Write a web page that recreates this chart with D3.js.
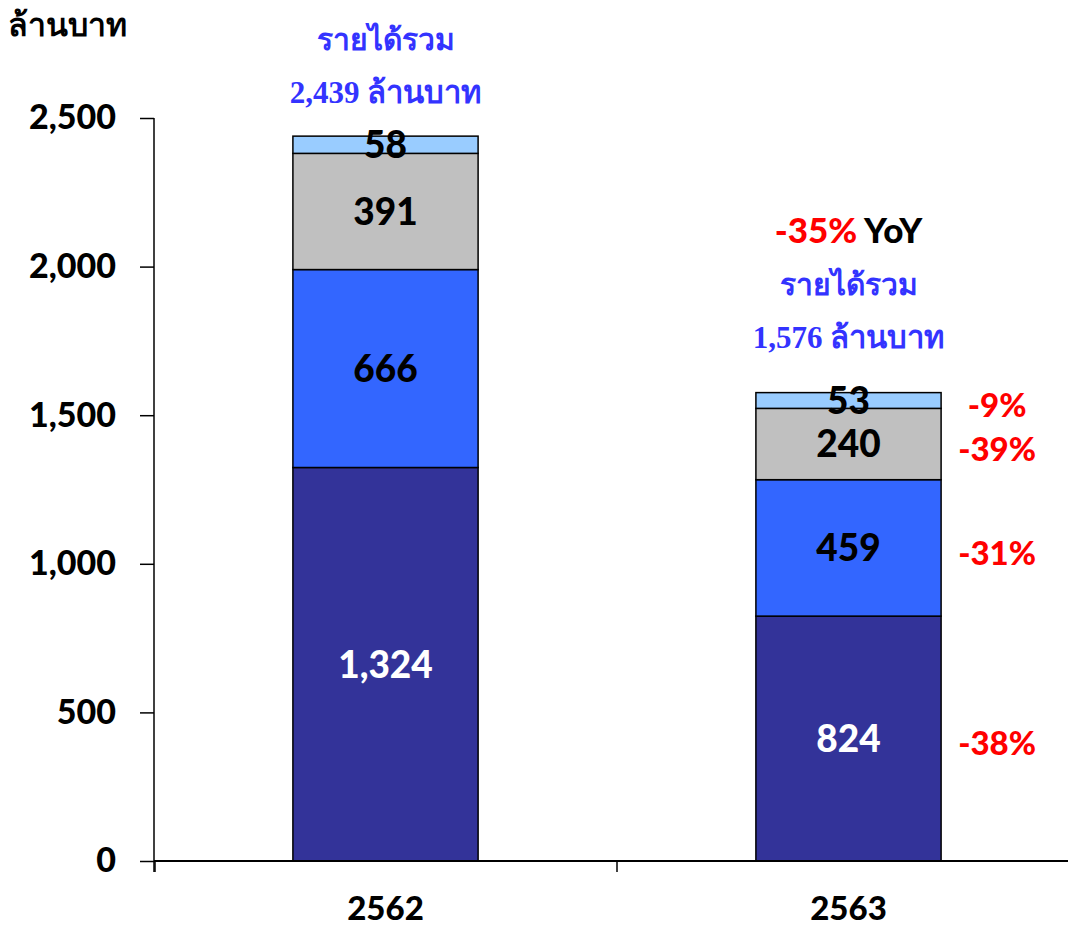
<!DOCTYPE html>
<html>
<head>
<meta charset="utf-8">
<script src="https://cdn.jsdelivr.net/npm/d3@7"></script>
<style>
  body { margin: 0; background: #fff; }
  svg { display: block; }
</style>
</head>
<body>
<svg width="1068" height="932"></svg>
<script>
// data
var years = ["2562", "2563"];
var seriesNames = ["s1", "s2", "s3", "s4"];
var s1 = [1324, 824];
var s2 = [666, 459];
var s3 = [391, 240];
var s4 = [58, 53];
var totals = [2439, 1576];
var changes = ["-38%", "-31%", "-39%", "-9%"];
var yTicks = [0, 500, 1000, 1500, 2000, 2500];
var colors = ["#333399", "#3366FF", "#C0C0C0", "#99CCFF"];
var labelColors = ["#fff", "#000", "#000", "#000"];

window.onload = function() {
  var svg = d3.select("svg");
  var numFont = "Lato, 'Open Sans', sans-serif";
  var thaiFont = "'Liberation Serif', 'DejaVu Serif', serif";

  var rows = years.map(function(y, i) {
    return {year: y, s1: s1[i], s2: s2[i], s3: s3[i], s4: s4[i]};
  });
  var stack = d3.stack().keys(seriesNames)(rows);

  var x = d3.scaleBand().domain(years).range([154, 1080]).paddingInner(0.6).paddingOuter(0.3);
  var y = d3.scaleLinear().domain([0, 2500]).range([861, 118]);

  // bars
  var layers = svg.append("g").selectAll("g")
    .data(stack).enter().append("g")
      .attr("fill", function(d, i) { return colors[i]; });
  layers.selectAll("rect")
    .data(function(d) { return d; })
    .enter().append("rect")
      .attr("x", function(d) { return x(d.data.year); })
      .attr("y", function(d) { return y(d[1]); })
      .attr("width", x.bandwidth())
      .attr("height", function(d) { return y(d[0]) - y(d[1]); })
      .attr("stroke", "#000")
      .attr("stroke-width", 1.5);

  // segment labels
  stack.forEach(function(layer, li) {
    svg.append("g").selectAll("text")
      .data(layer).enter().append("text")
        .attr("x", function(d) { return x(d.data.year) + x.bandwidth() / 2; })
        .attr("y", function(d) { return y((d[0] + d[1]) / 2); })
        .attr("dy", "0.36em")
        .attr("text-anchor", "middle")
        .attr("font-family", numFont)
        .attr("font-weight", 900)
        .attr("font-size", 37)
        .attr("fill", labelColors[li])
        .text(function(d) { return d3.format(",")(d[1] - d[0]); });
  });

  // y axis
  var yAxis = svg.append("g")
    .attr("transform", "translate(154,0)")
    .call(d3.axisLeft(y).tickValues(yTicks).tickSize(14).tickPadding(24).tickFormat(d3.format(",")));
  yAxis.select(".domain").attr("d", "M0,118V872").attr("stroke", "#000").attr("stroke-width", 1.5);
  yAxis.selectAll(".tick line").attr("stroke", "#000").attr("stroke-width", 1.5);
  yAxis.selectAll(".tick text")
    .attr("font-family", numFont).attr("font-weight", 900).attr("font-size", 34).attr("fill", "#000");

  // x axis
  var xAxis = svg.append("g")
    .attr("transform", "translate(0,861)")
    .call(d3.axisBottom(x).tickSize(0).tickPadding(36));
  xAxis.select(".domain").attr("d", "M154,0H1068").attr("stroke", "#000").attr("stroke-width", 2);
  xAxis.selectAll(".tick text")
    .attr("font-family", numFont).attr("font-weight", 900).attr("font-size", 33).attr("fill", "#000");
  var step = x.step();
  xAxis.selectAll(".sep")
    .data([155, 154 + step])
    .enter().append("line")
      .attr("x1", function(d) { return d; }).attr("x2", function(d) { return d; })
      .attr("y1", 0).attr("y2", 11)
      .attr("stroke", "#000").attr("stroke-width", 1.5);

  // unit label
  svg.append("text")
    .attr("x", 8).attr("y", 36)
    .attr("font-family", thaiFont).attr("font-weight", "bold").attr("font-size", 32)
    .attr("fill", "#000")
    .text("ล้านบาท");

  // totals
  var totalG = svg.append("g").selectAll("g")
    .data(years).enter().append("g");
  totalG.append("text")
    .attr("x", function(d) { return x(d) + x.bandwidth() / 2; })
    .attr("y", function(d, i) { return y(totals[i]) - (i === 0 ? 86 : 98); })
    .attr("text-anchor", "middle")
    .attr("font-family", thaiFont).attr("font-weight", "bold").attr("font-size", 30)
    .attr("fill", "#3333FF")
    .text("รายได้รวม");
  totalG.append("text")
    .attr("x", function(d) { return x(d) + x.bandwidth() / 2; })
    .attr("y", function(d, i) { return y(totals[i]) - (i === 0 ? 33 : 45); })
    .attr("text-anchor", "middle")
    .attr("font-family", thaiFont).attr("font-weight", "bold").attr("font-size", 31)
    .attr("fill", "#3333FF")
    .text(function(d, i) { return d3.format(",")(totals[i]) + " ล้านบาท"; });

  // YoY
  var yoy = svg.append("text")
    .attr("x", x("2563") + x.bandwidth() / 2)
    .attr("y", y(totals[1]) - 150)
    .attr("text-anchor", "middle")
    .attr("font-family", numFont).attr("font-weight", 900).attr("font-size", 35);
  yoy.append("tspan").attr("fill", "#FF0000").text("-35%");
  yoy.append("tspan").attr("fill", "#000").text(" YoY");

  // change labels
  svg.append("g").selectAll("text")
    .data(stack.map(function(l) { return l[1]; }))
    .enter().append("text")
      .attr("x", x("2563") + x.bandwidth() + 56)
      .attr("y", function(d) { return y((d[0] + d[1]) / 2) + 5; })
      .attr("dy", "0.36em")
      .attr("text-anchor", "middle")
      .attr("font-family", numFont).attr("font-weight", 900).attr("font-size", 33)
      .attr("fill", "#FF0000")
      .text(function(d, i) { return changes[i]; });
};
</script>
</body>
</html>
